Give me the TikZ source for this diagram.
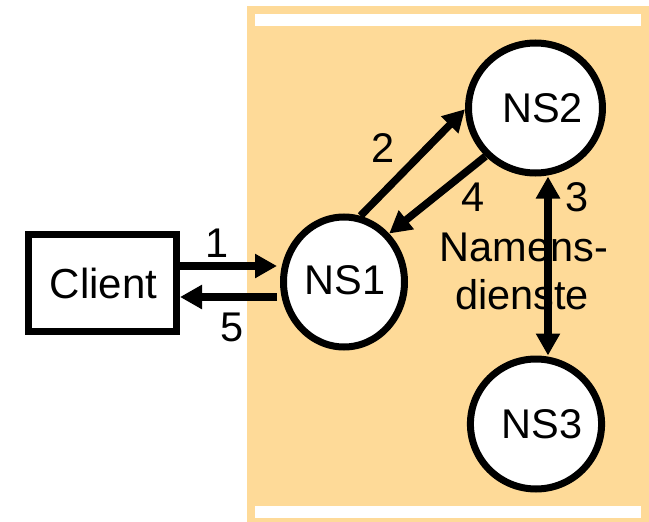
\documentclass[tikz,border=0pt]{standalone}
\usepackage{fontspec}
\setmainfont{Liberation Sans}
\usetikzlibrary{arrows.meta,shapes.geometric}
\definecolor{bgorange}{RGB}{254,218,152}
\tikzset{
  srv/.style={ellipse,draw=black,fill=white,line width=7pt,minimum width=121pt,minimum height=130pt,inner sep=0pt,font=\fontsize{41.5}{48}\selectfont},
  clientbox/.style={rectangle,draw=black,fill=white,line width=7pt,minimum width=148pt,minimum height=97pt,inner sep=0pt,font=\fontsize{42}{48}\selectfont},
  arr/.style={line width=7.5pt,-{Triangle[length=22pt,width=23pt]}},
  darr/.style={line width=7.5pt,{Triangle[length=22pt,width=23pt]}-{Triangle[length=22pt,width=23pt]}},
  lbl/.style={inner sep=0pt,font=\fontsize{41.5}{48}\selectfont}
}
\begin{document}
\begin{tikzpicture}[x=1pt,y=1pt]
\useasboundingbox (0,0) rectangle (649,-522);
\fill[bgorange] (247,-6) rectangle (649,-522);
\fill[white] (255,-14) rectangle (641,-26);
\fill[white] (255,-506) rectangle (641,-518);
\node[clientbox] (client) at (102.5,-283) {\hspace*{2pt}\raisebox{-3pt}{Client}};
\node[srv] (ns1) at (344,-282) {\hspace*{2pt}\raisebox{4pt}{NS1}};
\node[srv] (ns2) at (535.5,-108) {\hspace*{14pt}\raisebox{-4pt}{NS2}};
\node[srv] (ns3) at (536,-424) {\hspace*{12pt}\raisebox{-3pt}{NS3}};
\coordinate (e1) at (277,-266);
\coordinate (s5) at (277,-297);
\coordinate (x3) at (548,0);
\draw[arr] (client.east |- e1) -- (e1);
\draw[arr] (s5) -- (client.east |- s5);
\draw[arr] (ns1.76) -- (ns2.181);
\draw[arr] (ns2.224) -- (ns1.47);
\draw[darr] (ns2.south -| x3) -- (ns3.north -| x3);
\node[lbl] (l1) at (217,-243) {1};
\node[lbl] (l5) at (232,-327) {5};
\node[lbl] (l2) at (383,-148) {2};
\node[lbl] (l4) at (473,-197) {4};
\node[lbl] (l3) at (577,-197) {3};
\node[lbl] (nam) at (524,-247) {Namens-};
\node[lbl] (die) at (522,-295) {dienste};
\end{tikzpicture}
\end{document}
